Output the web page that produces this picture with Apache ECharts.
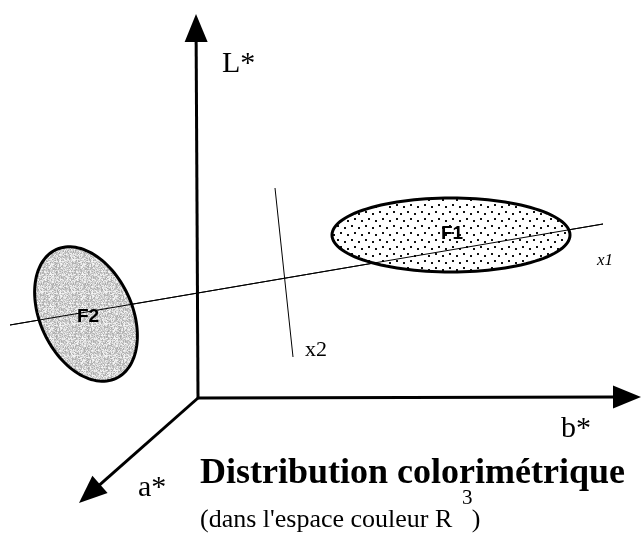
<!DOCTYPE html>
<html>
<head>
<meta charset="utf-8">
<script src="https://cdn.jsdelivr.net/npm/echarts@6/dist/echarts.min.js"></script>
<style>
  html, body { margin: 0; padding: 0; background: #fff; }
  #chart { width: 642px; height: 538px; }
</style>
</head>
<body>
<div id="chart"></div>
<script>
// diagram space = picture space (x right, y down)
const axisNames = ['L*', 'b*', 'a*']
const axisOrigin = [198, 398]
const axisTips = [[196, 14], [641, 397], [79, 503]]
const axisLabelAt = [[222, 64], [561, 429], [138, 488]]

const factorNames = ['x1', 'x2']
const factorLines = [[10, 325, 603, 224], [275, 188, 293, 357]]
const factorLabelAt = [[597, 261], [305, 350]]

const clusterNames = ['F1', 'F2']
const clusterCenters = [[451, 235], [86, 314]]
const clusterRadii = [[119, 37], [46, 71]]
const clusterTilt = [0, -25]
const clusterLabelAt = [[452, 234], [88, 317]]

const serif = '"Liberation Serif", "Times New Roman", serif'
const sans = '"Liberation Sans", Arial, sans-serif'

// fill textures
function dotTile () {
  const c = document.createElement('canvas')
  c.width = 14
  c.height = 14
  const g = c.getContext('2d')
  g.fillStyle = '#fff'
  g.fillRect(0, 0, 14, 14)
  g.fillStyle = '#111'
  ;[[1, 1], [8, 3], [4, 8], [11, 10]].forEach(p => g.fillRect(p[0], p[1], 2, 2))
  return c
}
function greyTile () {
  const c = document.createElement('canvas')
  c.width = 32
  c.height = 32
  const g = c.getContext('2d')
  let s = 12345
  for (let i = 0; i < 32; i++) {
    for (let j = 0; j < 32; j++) {
      s = (s * 1103515245 + 12345) % 2147483648
      const v = 168 + Math.floor((s / 2147483648) * 82)
      g.fillStyle = 'rgb(' + v + ',' + v + ',' + v + ')'
      g.fillRect(i, j, 1, 1)
    }
  }
  return c
}
const clusterFill = [
  { image: dotTile(), repeat: 'repeat' },
  { image: greyTile(), repeat: 'repeat' }
]

const chart = echarts.init(document.getElementById('chart'))

function arrowItem (params, api) {
  const o = api.coord(axisOrigin)
  const t = api.coord([api.value(0), api.value(1)])
  const dx = t[0] - o[0]
  const dy = t[1] - o[1]
  const len = Math.sqrt(dx * dx + dy * dy)
  const ux = dx / len
  const uy = dy / len
  const head = 28
  const half = 11.5
  const bx = t[0] - ux * head
  const by = t[1] - uy * head
  return {
    type: 'group',
    children: [{
      type: 'line',
      shape: { x1: o[0], y1: o[1], x2: bx + ux * 2, y2: by + uy * 2 },
      style: { stroke: '#000', lineWidth: 3 }
    }, {
      type: 'polygon',
      shape: { points: [t, [bx - uy * half, by + ux * half], [bx + uy * half, by - ux * half]] },
      style: { fill: '#000' }
    }]
  }
}

function ellipseItem (params, api) {
  const i = params.dataIndex
  const c = api.coord([api.value(0), api.value(1)])
  const r = api.size([api.value(2), api.value(3)])
  const a = clusterTilt[i] * Math.PI / 180
  const pts = []
  for (let k = 0; k < 120; k++) {
    const th = k / 120 * Math.PI * 2
    const x = r[0] * Math.cos(th)
    const y = r[1] * Math.sin(th)
    pts.push([c[0] + x * Math.cos(a) - y * Math.sin(a), c[1] + x * Math.sin(a) + y * Math.cos(a)])
  }
  return {
    type: 'polygon',
    shape: { points: pts },
    style: { fill: clusterFill[i], stroke: '#000', lineWidth: 3 }
  }
}

function lineItem (params, api) {
  const a = api.coord([api.value(0), api.value(1)])
  const b = api.coord([api.value(2), api.value(3)])
  return {
    type: 'line',
    shape: { x1: a[0], y1: a[1], x2: b[0], y2: b[1] },
    style: { stroke: '#000', lineWidth: 1 }
  }
}

function textItem (names, font) {
  return function (params, api) {
    const p = api.coord([api.value(0), api.value(1)])
    return {
      type: 'text',
      x: p[0],
      y: p[1],
      style: Object.assign({ text: names[params.dataIndex], fill: '#000', verticalAlign: 'middle' }, font(params.dataIndex))
    }
  }
}

const option = {
  animation: false,
  backgroundColor: '#fff',
  grid: { left: 0, right: 0, top: 0, bottom: 0 },
  xAxis: { type: 'value', min: 0, max: 642, show: false },
  yAxis: { type: 'value', min: 0, max: 538, inverse: true, show: false },
  title: [{
    text: 'Distribution colorimétrique',
    left: 200,
    top: 456,
    padding: 0,
    textStyle: { fontFamily: serif, fontWeight: 'bold', fontSize: 36, color: '#000' }
  }, {
    text: "(dans l'espace couleur R   )",
    left: 200,
    top: 507,
    padding: 0,
    textStyle: { fontFamily: serif, fontWeight: 'normal', fontSize: 26, color: '#000' }
  }, {
    text: '3',
    left: 462,
    top: 488,
    padding: 0,
    textStyle: { fontFamily: serif, fontWeight: 'normal', fontSize: 21, color: '#000' }
  }],
  series: [{
    type: 'custom',
    name: 'factors',
    renderItem: lineItem,
    data: factorLines,
    z: 1
  }, {
    type: 'custom',
    name: 'clusters',
    renderItem: ellipseItem,
    data: clusterCenters.map((c, i) => c.concat(clusterRadii[i])),
    z: 2
  }, {
    // the x1 line shows through the clusters
    type: 'custom',
    name: 'factors-over',
    renderItem: lineItem,
    data: [factorLines[0]],
    z: 3
  }, {
    type: 'custom',
    name: 'axes',
    renderItem: arrowItem,
    data: axisTips,
    z: 4
  }, {
    type: 'custom',
    name: 'axisLabels',
    renderItem: textItem(axisNames, () => ({ font: '30px ' + serif })),
    data: axisLabelAt,
    z: 5
  }, {
    type: 'custom',
    name: 'factorLabels',
    renderItem: textItem(factorNames, i => ({ font: i === 0 ? 'italic 17px ' + serif : '22px ' + serif })),
    data: factorLabelAt,
    z: 5
  }, {
    type: 'custom',
    name: 'clusterLabels',
    renderItem: textItem(clusterNames, () => ({ font: 'bold 19px ' + sans, align: 'center' })),
    data: clusterLabelAt,
    z: 5
  }]
}
chart.setOption(option)
</script>
</body>
</html>
